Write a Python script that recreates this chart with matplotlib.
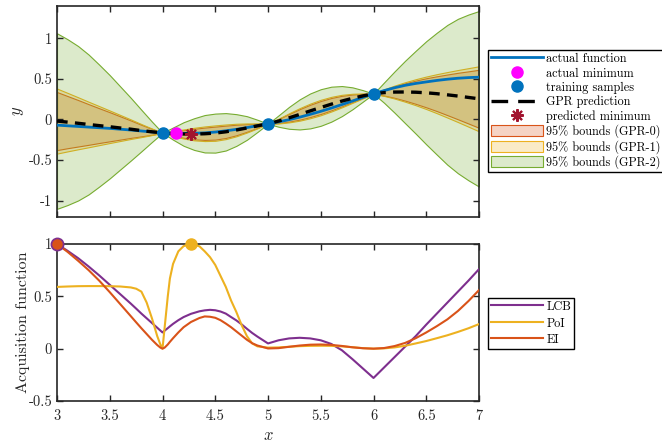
import numpy as np
import matplotlib
matplotlib.use("Agg")
import matplotlib.pyplot as plt
from matplotlib.patches import Patch
from matplotlib.lines import Line2D

plt.rcParams["font.family"] = ["cmr10", "DejaVu Serif"]
plt.rcParams["mathtext.fontset"] = "cm"
plt.rcParams["axes.unicode_minus"] = False

# ---------------- data ----------------
x_top = [3.0, 3.1, 3.2, 3.3, 3.4, 3.5, 3.6, 3.7, 3.8, 3.9, 4.0,
         4.1, 4.2, 4.3, 4.4, 4.5, 4.6, 4.7, 4.8, 4.9, 5.0,
         5.1, 5.2, 5.3, 5.4, 5.5, 5.6, 5.7, 5.8, 5.9, 6.0,
         6.1, 6.2, 6.3, 6.4, 6.5, 6.6, 6.7, 6.8, 6.9, 7.0]

actual_f = [-0.07, -0.078, -0.086, -0.094, -0.102, -0.11, -0.12, -0.13, -0.142, -0.154, -0.165,
            -0.17, -0.171, -0.17, -0.165, -0.155, -0.14, -0.122, -0.1, -0.077, -0.053,
            -0.03, -0.003, 0.028, 0.063, 0.10, 0.14, 0.183, 0.227, 0.272, 0.316,
            0.355, 0.39, 0.42, 0.443, 0.462, 0.48, 0.495, 0.507, 0.515, 0.52]

gpr_mean = [-0.02, -0.033, -0.047, -0.062, -0.076, -0.09, -0.105, -0.12, -0.137, -0.152, -0.165,
            -0.174, -0.179, -0.18, -0.176, -0.168, -0.152, -0.13, -0.105, -0.079, -0.053,
            -0.02, 0.02, 0.062, 0.105, 0.147, 0.188, 0.226, 0.26, 0.29, 0.316,
            0.33, 0.337, 0.338, 0.335, 0.328, 0.317, 0.303, 0.288, 0.271, 0.254]

# 95% half widths of the three GPR models
hw_gpr0 = [0.357, 0.321, 0.286, 0.25, 0.214, 0.179, 0.143, 0.107, 0.071, 0.036, 0.0,
           0.025, 0.047, 0.065, 0.076, 0.08, 0.076, 0.065, 0.047, 0.025, 0.0,
           0.025, 0.047, 0.065, 0.076, 0.08, 0.076, 0.065, 0.047, 0.025, 0.0,
           0.036, 0.071, 0.107, 0.143, 0.179, 0.214, 0.25, 0.286, 0.321, 0.357]
hw_gpr1 = [0.40, 0.36, 0.32, 0.28, 0.24, 0.20, 0.16, 0.12, 0.08, 0.04, 0.0,
           0.03, 0.056, 0.077, 0.09, 0.095, 0.09, 0.077, 0.056, 0.03, 0.0,
           0.03, 0.056, 0.077, 0.09, 0.095, 0.09, 0.077, 0.056, 0.03, 0.0,
           0.04, 0.08, 0.12, 0.16, 0.20, 0.24, 0.28, 0.32, 0.36, 0.40]
hw_gpr2 = [1.08, 1.02, 0.95, 0.86, 0.75, 0.635, 0.51, 0.385, 0.255, 0.125, 0.0,
           0.075, 0.145, 0.195, 0.23, 0.24, 0.23, 0.195, 0.145, 0.075, 0.0,
           0.07, 0.135, 0.185, 0.215, 0.225, 0.215, 0.185, 0.135, 0.07, 0.0,
           0.125, 0.255, 0.385, 0.51, 0.635, 0.75, 0.86, 0.95, 1.02, 1.08]

train_x = [4.0, 5.0, 6.0]
train_y = [-0.165, -0.053, 0.316]
actual_min = (4.13, -0.172)
pred_min = (4.27, -0.18)

x_acq = [3.0, 3.1, 3.2, 3.3, 3.4, 3.5, 3.6, 3.7, 3.75, 3.8, 3.85, 3.9, 3.95, 3.98, 4.0,
         4.02, 4.05, 4.07, 4.1, 4.15, 4.2, 4.27, 4.35, 4.4, 4.45,
         4.5, 4.55, 4.6, 4.65, 4.7, 4.75, 4.8, 4.85, 4.9,
         5.0, 5.1, 5.2, 5.3, 5.4, 5.5, 5.6, 5.7, 5.8, 5.9,
         6.0, 6.1, 6.2, 6.3, 6.4, 6.5, 6.6, 6.7, 6.8, 6.9, 7.0]

lcb = [1.0, 0.935, 0.865, 0.785, 0.70, 0.61, 0.52, 0.43, 0.383, 0.335, 0.29, 0.245, 0.2, 0.173, 0.155,
       0.172, 0.196, 0.213, 0.237, 0.272, 0.302, 0.333, 0.357, 0.366, 0.371,
       0.367, 0.355, 0.335, 0.302, 0.27, 0.232, 0.19, 0.15, 0.115,
       0.05, 0.08, 0.098, 0.104, 0.098, 0.08, 0.045, -0.015, -0.1, -0.19,
       -0.28, -0.18, -0.08, 0.02, 0.12, 0.23, 0.335, 0.44, 0.545, 0.65, 0.76]

poi = [0.59, 0.594, 0.597, 0.598, 0.598, 0.597, 0.594, 0.585, 0.573, 0.545, 0.44, 0.29, 0.12, 0.04, 0.0,
       0.2, 0.5, 0.67, 0.81, 0.93, 0.98, 1.0, 0.978, 0.93, 0.875,
       0.80, 0.695, 0.59, 0.46, 0.35, 0.225, 0.12, 0.05, 0.022,
       0.01, 0.012, 0.018, 0.024, 0.027, 0.028, 0.027, 0.022, 0.014, 0.005,
       0.0, 0.003, 0.012, 0.028, 0.05, 0.073, 0.1, 0.128, 0.16, 0.195, 0.235]

ei = [1.0, 0.925, 0.84, 0.75, 0.65, 0.54, 0.425, 0.31, 0.252, 0.195, 0.14, 0.085, 0.035, 0.01, 0.0,
      0.01, 0.04, 0.065, 0.10, 0.155, 0.205, 0.255, 0.293, 0.308, 0.305,
      0.295, 0.272, 0.24, 0.205, 0.165, 0.125, 0.085, 0.052, 0.03,
      0.002, 0.005, 0.018, 0.03, 0.038, 0.04, 0.036, 0.026, 0.013, 0.004,
      0.0, 0.006, 0.025, 0.055, 0.1, 0.155, 0.215, 0.28, 0.36, 0.455, 0.56]

lcb_best = (3.0, 1.0)
ei_best = (3.0, 1.0)
poi_best = (4.27, 1.0)

# ---------------- styling ----------------
C_BLUE = (0.0, 0.447, 0.741)
C_ORANGE = (0.85, 0.325, 0.098)
C_YELLOW = (0.929, 0.694, 0.125)
C_PURPLE = (0.494, 0.184, 0.556)
C_GREEN = (0.466, 0.674, 0.188)
C_DRED = (0.635, 0.078, 0.184)
C_AX = (0.15, 0.15, 0.15)
DASH = (0, (3.2, 2.2))
LEG_KW = dict(loc="upper left", bbox_transform=None, borderaxespad=0, fontsize=8.8,
              handlelength=4.3, handleheight=1.0, handletextpad=0.25,
              borderpad=0.22, fancybox=False, framealpha=1, edgecolor="black")


def style_axes(ax):
    for s in ax.spines.values():
        s.set_linewidth(1.2)
        s.set_color(C_AX)
    ax.tick_params(direction="in", top=True, right=True, length=4, width=1.0,
                   colors=C_AX, labelsize=10.5, labelcolor=C_AX)
    ax.tick_params(axis="x", pad=6)
    ax.set_xlim(3, 7)
    ax.set_xticks([3, 3.5, 4, 4.5, 5, 5.5, 6, 6.5, 7])


fig = plt.figure(figsize=(6.62, 4.46), dpi=100)
ax1 = fig.add_axes([0.0861, 0.5135, 0.6375, 0.4738])
ax2 = fig.add_axes([0.0861, 0.1009, 0.6375, 0.352])
LEG_KW["bbox_transform"] = fig.transFigure

xt = np.array(x_top)
mu = np.array(gpr_mean)
for hw, col in [(hw_gpr0, C_ORANGE), (hw_gpr1, C_YELLOW), (hw_gpr2, C_GREEN)]:
    hw = np.array(hw)
    ax1.fill_between(xt, mu - hw, mu + hw, facecolor=col + (0.25,),
                     edgecolor=col, linewidth=0.8, zorder=1)

ax1.plot(xt, actual_f, color=C_BLUE, lw=2.0, zorder=3)
ax1.plot(xt, mu, color="black", lw=2.4, linestyle=DASH, zorder=4)
ax1.plot(train_x, train_y, "o", color=C_BLUE, ms=8, zorder=5)
ax1.plot([actual_min[0]], [actual_min[1]], "o", color=(1, 0, 1), ms=8, zorder=5)
ax1.plot([pred_min[0]], [pred_min[1]], marker=(8, 2, 0), color=C_DRED, ms=9,
         mew=1.5, linestyle="none", zorder=6)

style_axes(ax1)
ax1.set_ylim(-1.2, 1.4)
ax1.set_yticks([-1, -0.5, 0, 0.5, 1])
ax1.set_yticklabels(["-1", "-0.5", "0", "0.5", "1"])
ax1.set_xticklabels([])
ax1.set_ylabel(r"$y$", fontsize=12, color=C_AX, labelpad=2)

handles1 = [
    Line2D([], [], color=C_BLUE, lw=2.0),
    Line2D([], [], marker="o", color=(1, 0, 1), ms=8, linestyle="none"),
    Line2D([], [], marker="o", color=C_BLUE, ms=8, linestyle="none"),
    Line2D([], [], color="black", lw=2.4, linestyle=(0, (5, 3))),
    Line2D([], [], marker=(8, 2, 0), color=C_DRED, ms=9, mew=1.5, linestyle="none"),
    Patch(facecolor=C_ORANGE + (0.25,), edgecolor=C_ORANGE, linewidth=0.8),
    Patch(facecolor=C_YELLOW + (0.25,), edgecolor=C_YELLOW, linewidth=0.8),
    Patch(facecolor=C_GREEN + (0.25,), edgecolor=C_GREEN, linewidth=0.8),
]
labels1 = ["actual function", "actual minimum", "training samples", "GPR prediction",
           "predicted minimum", "95% bounds (GPR-0)", "95% bounds (GPR-1)", "95% bounds (GPR-2)"]
leg1 = fig.legend(handles1, labels1, bbox_to_anchor=(0.737, 0.888), labelspacing=0.14, **LEG_KW)
leg1.get_frame().set_linewidth(1.0)

xa = np.array(x_acq)
ax2.plot(xa, lcb, color=C_PURPLE, lw=1.5, label="LCB", zorder=3)
ax2.plot(xa, poi, color=C_YELLOW, lw=1.5, label="PoI", zorder=3)
ax2.plot(xa, ei, color=C_ORANGE, lw=1.5, label="EI", zorder=3)
ax2.plot([lcb_best[0]], [lcb_best[1]], "o", color=C_PURPLE, ms=9, clip_on=False, zorder=5)
ax2.plot([poi_best[0]], [poi_best[1]], "o", color=C_YELLOW, ms=8, clip_on=False, zorder=5)
ax2.plot([ei_best[0]], [ei_best[1]], "o", color=C_ORANGE, ms=6.5, clip_on=False, zorder=6)

style_axes(ax2)
ax2.set_ylim(-0.5, 1.0)
ax2.set_yticks([-0.5, 0, 0.5, 1])
ax2.set_yticklabels(["-0.5", "0", "0.5", "1"])
ax2.set_xticklabels(["3", "3.5", "4", "4.5", "5", "5.5", "6", "6.5", "7"])
ax2.set_xlabel(r"$x$", fontsize=12, color=C_AX, labelpad=3)
ax2.set_ylabel("Acquisition function", fontsize=11.5, color=C_AX, labelpad=-1)

leg2 = fig.legend(*ax2.get_legend_handles_labels(), bbox_to_anchor=(0.737, 0.332),
                  labelspacing=0.3, **LEG_KW)
leg2.get_frame().set_linewidth(1.0)

fig.savefig("out.png", dpi=100)
